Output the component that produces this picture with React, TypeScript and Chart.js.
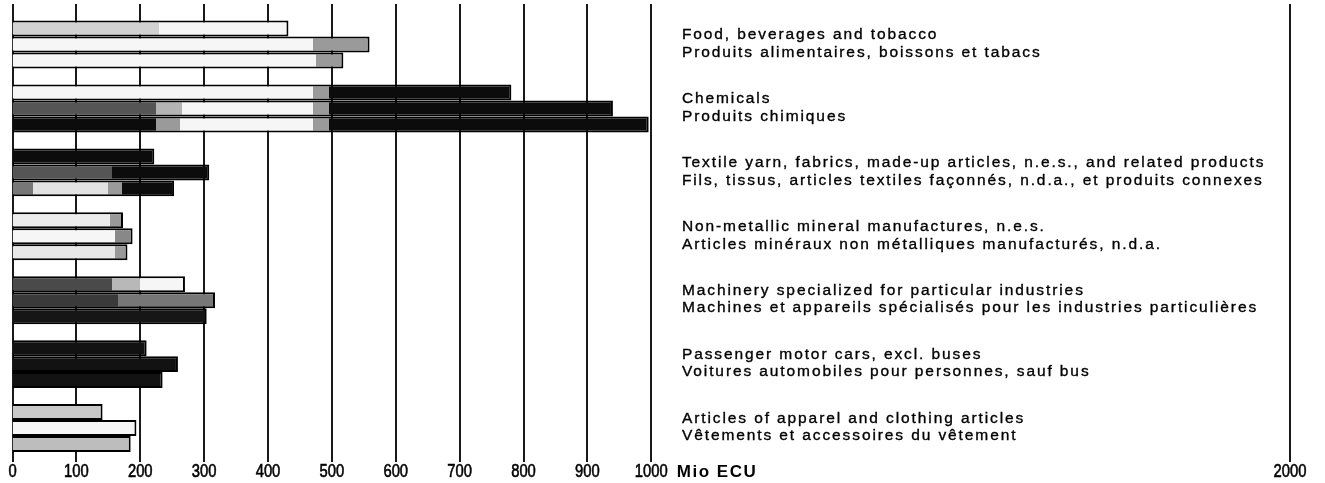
import React, { useEffect, useRef } from "react";
import { Chart, registerables } from "chart.js";

Chart.register(...registerables);

const CATEGORIES_EN = [
  "Food, beverages and tobacco",
  "Chemicals",
  "Textile yarn, fabrics, made-up articles, n.e.s., and related products",
  "Non-metallic mineral manufactures, n.e.s.",
  "Machinery specialized for particular industries",
  "Passenger motor cars, excl. buses",
  "Articles of apparel and clothing articles",
];
const CATEGORIES_FR = [
  "Produits alimentaires, boissons et tabacs",
  "Produits chimiques",
  "Fils, tissus, articles textiles façonnés, n.d.a., et produits connexes",
  "Articles minéraux non métalliques manufacturés, n.d.a.",
  "Machines et appareils spécialisés pour les industries particulières",
  "Voitures automobiles pour personnes, sauf bus",
  "Vêtements et accessoires du vêtement",
];
const SERIES_1 = [432, 781, 222, 173, 270, 210, 141];
const SERIES_2 = [559, 940, 308, 188, 317, 259, 194];
const SERIES_3 = [518, 996, 253, 180, 304, 235, 185];
const TICK_VALUES = [0, 100, 200, 300, 400, 500, 600, 700, 800, 900, 1000, 2000];
const UNIT_LABEL = "Mio ECU";

// Styling only: shading segments (start value, colour) imitating the printed halftones
const W = "#f6f6f6";
const G = "#9a9a9a";
const B = "#0c0c0c";
const SHADES: [number, string][][][] = [
  [
    [[0, "#d2d2d2"], [230, W]],
    [[0, W], [470, G], [495, B]],
    [[0, B]],
    [[0, "#ececec"], [153, "#999"]],
    [[0, "#4a4a4a"], [155, "#b8b8b8"], [200, W]],
    [[0, "#121212"]],
    [[0, "#c8c8c8"]],
  ],
  [
    [[0, W], [470, G]],
    [[0, "#555"], [225, "#b4b4b4"], [265, W], [470, G], [495, B]],
    [[0, "#555"], [155, B]],
    [[0, W], [160, "#888"]],
    [[0, "#3a3a3a"], [165, "#777"]],
    [[0, "#121212"]],
    [[0, W]],
  ],
  [
    [[0, W], [475, G]],
    [[0, B], [225, G], [262, W], [470, G], [495, B]],
    [[0, "#777"], [32, "#e2e2e2"], [150, G], [172, B]],
    [[0, "#e8e8e8"], [160, "#999"]],
    [[0, "#161616"]],
    [[0, "#121212"]],
    [[0, "#bdbdbd"]],
  ],
];

const FAMILY = '"Liberation Sans", Arial, Helvetica, sans-serif';

function makeFill(ctx: any) {
  const chart = ctx.chart;
  const xs = chart.scales && chart.scales.x;
  if (!chart.chartArea || !xs) return "#ccc";
  const segs = SHADES[ctx.datasetIndex]?.[ctx.dataIndex];
  if (!segs || !segs.length) return "#ccc";
  const x0 = xs.getPixelForValue(0);
  const x1 = xs.getPixelForValue(2000);
  const g = chart.ctx.createLinearGradient(x0, 0, x1, 0);
  for (let k = 0; k < segs.length; k++) {
    const from = segs[k][0] / 2000;
    const to = k + 1 < segs.length ? segs[k + 1][0] / 2000 : 1;
    g.addColorStop(Math.min(1, from), segs[k][1]);
    g.addColorStop(Math.min(1, to), segs[k][1]);
  }
  return g;
}

const gridPlugin = {
  id: "customGrid",
  beforeDatasetsDraw(chart: any) {
    const { ctx, chartArea } = chart;
    const xs = chart.scales.x;
    ctx.save();
    ctx.strokeStyle = "#000";
    ctx.lineWidth = 1.8;
    for (const v of TICK_VALUES) {
      const x = Math.round(xs.getPixelForValue(v));
      ctx.beginPath();
      ctx.moveTo(x, chartArea.top - 8.5);
      ctx.lineTo(x, chartArea.bottom + 2);
      ctx.stroke();
    }
    ctx.restore();
  },
};

const textPlugin = {
  id: "categoryText",
  afterDraw(chart: any) {
    const { ctx, chartArea } = chart;
    const xs = chart.scales.x;
    const ys = chart.scales.y;
    ctx.save();
    ctx.fillStyle = "#000";
    ctx.strokeStyle = "#000";
    ctx.lineWidth = 0.35;
    ctx.font = "15.5px " + FAMILY;
    (ctx as any).letterSpacing = "1.9px";
    ctx.textAlign = "left";
    ctx.textBaseline = "middle";
    const tx = xs.getPixelForValue(1048);
    for (let i = 0; i < CATEGORIES_EN.length; i++) {
      const y = ys.getPixelForValue(i);
      ctx.fillText(CATEGORIES_EN[i], tx, y - 9.5);
      ctx.strokeText(CATEGORIES_EN[i], tx, y - 9.5);
      ctx.fillText(CATEGORIES_FR[i], tx, y + 8);
      ctx.strokeText(CATEGORIES_FR[i], tx, y + 8);
    }
    // tick labels (condensed)
    (ctx as any).letterSpacing = "0px";
    ctx.font = "18px " + FAMILY;
    ctx.textAlign = "center";
    ctx.lineWidth = 0.6;
    const ly = chartArea.bottom + 12.5;
    for (const v of TICK_VALUES) {
      ctx.save();
      ctx.translate(xs.getPixelForValue(v), ly);
      ctx.scale(0.82, 1);
      ctx.fillText(String(v), 0, 0);
      ctx.strokeText(String(v), 0, 0);
      ctx.restore();
    }
    ctx.font = "bold 17px " + FAMILY;
    (ctx as any).letterSpacing = "1.5px";
    ctx.textAlign = "left";
    ctx.fillText(UNIT_LABEL, xs.getPixelForValue(1040), ly);
    ctx.restore();
  },
};

export default function App() {
  const ref = useRef<HTMLCanvasElement | null>(null);
  useEffect(() => {
    document.body.style.margin = "0";
    const canvas = ref.current;
    if (!canvas) return;
    const mk = (data: number[]) => ({
      data,
      backgroundColor: makeFill,
      borderColor: "#000",
      borderWidth: 2,
      categoryPercentage: 0.75,
      barPercentage: 1.0,
    });
    const chart = new Chart(canvas, {
      type: "bar",
      data: {
        labels: CATEGORIES_EN,
        datasets: [mk(SERIES_1), mk(SERIES_2), mk(SERIES_3)],
      },
      options: {
        indexAxis: "y",
        animation: false,
        responsive: true,
        maintainAspectRatio: false,
        layout: { padding: { left: 12.5, right: 35, top: 12.6, bottom: 23 } },
        plugins: { legend: { display: false }, tooltip: { enabled: false } },
        scales: {
          x: {
            type: "linear",
            display: false,
            min: 0,
            max: 2000,
          },
          y: { type: "category", display: false },
        },
      },
      plugins: [gridPlugin, textPlugin],
    });
    return () => chart.destroy();
  }, []);
  return (
    <div style={{ width: 1325, height: 483, position: "relative", background: "#fff" }}>
      <canvas ref={ref} />
    </div>
  );
}
